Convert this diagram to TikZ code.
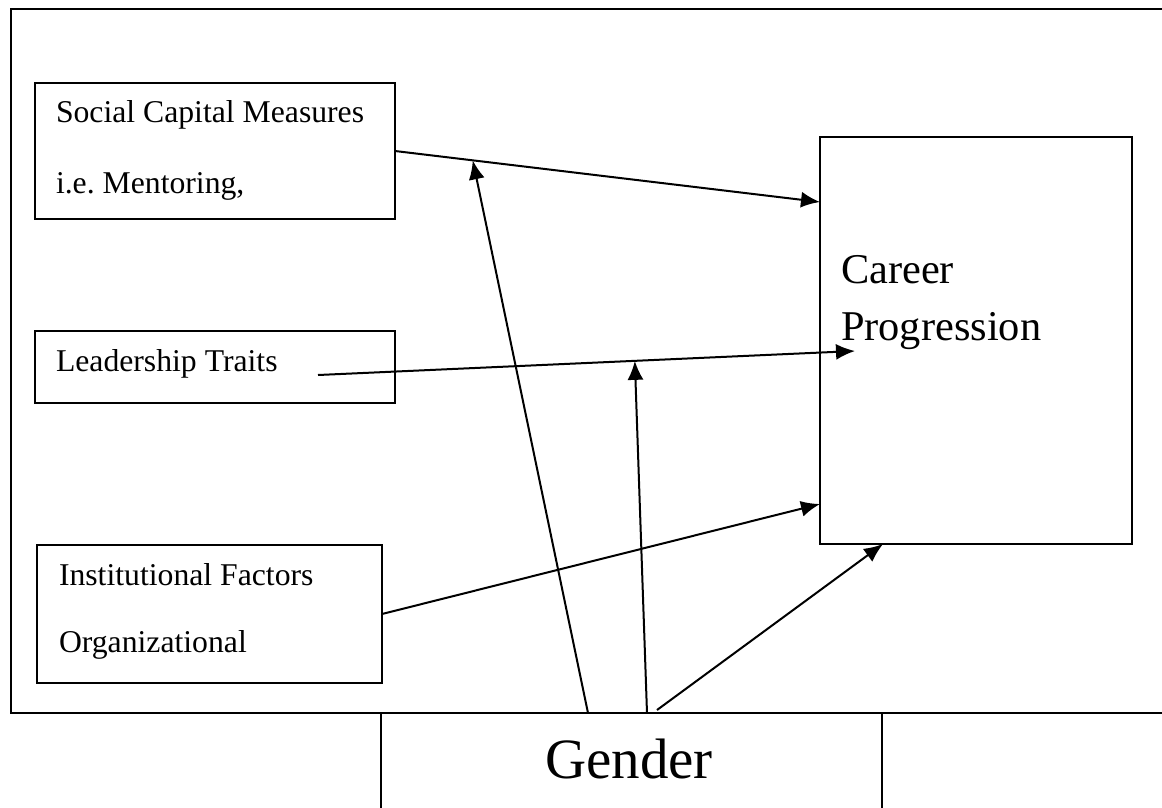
\documentclass[tikz,border=0pt]{standalone}
\usepackage{fontspec}
\setmainfont{Liberation Serif}
\usetikzlibrary{arrows.meta}

\newcommand{\smalltxt}{\fontsize{31.7}{38}\selectfont}
\newcommand{\midtxt}{\fontsize{42.4}{50}\selectfont}
\newcommand{\bigtxt}{\fontsize{57}{68}\selectfont}

\tikzset{
  box/.style={draw, line width=2.2pt, inner sep=0pt, outer sep=0pt, anchor=north west},
  lbl/.style={anchor=base west, inner sep=0pt},
}

\begin{document}
\begin{tikzpicture}[x=1pt, y=-1pt, >={Latex[length=19pt,width=16pt]}, line width=2pt]
  \useasboundingbox (0,0) rectangle (1162,807);
  \clip (0,0) rectangle (1162,807);
  % Outer frame, open on the right.
  \draw[line width=2.2pt] (1170,9) -- (11,9) -- (11,713) -- (1170,713);
  % Boxes on the left, the outcome on the right, the moderator below.
  \node[box, minimum width=360pt, minimum height=136pt] (social) at (35,83) {};
  \node[box, minimum width=360pt, minimum height=72pt]  (leader) at (35,331) {};
  \node[box, minimum width=345pt, minimum height=138pt] (inst)   at (37,545) {};
  \node[box, minimum width=312pt, minimum height=407pt] (career) at (820,137) {};
  \node[box, minimum width=501pt, minimum height=130pt] (gender) at (381,713) {};
  % Texts inside the boxes.
  \node[lbl, font=\smalltxt] (socialtxt) at (55,122) {Social Capital Measures};
  \node[lbl, font=\smalltxt] (mentortxt) at (55,193) {i.e.\ Mentoring,};
  \node[lbl, font=\smalltxt] (leadertxt) at (55,371) {Leadership Traits};
  \node[lbl, font=\smalltxt] (insttxt)   at (58,585) {Institutional Factors};
  \node[lbl, font=\smalltxt] (orgtxt)    at (58,652) {Organizational};
  \node[lbl, font=\midtxt]   (careertxt) at (840,283) {Career};
  \node[lbl, font=\midtxt]   (progtxt)   at (840,340) {Progression};
  \node[anchor=base, inner sep=0pt, font=\bigtxt] (gendertxt) at (629,778) {Gender};
  % End points of the arrows.
  \coordinate (c1) at (820,202);
  \coordinate (l0) at (318,375);
  \coordinate (l1) at (855,351);
  \coordinate (c2) at (820,504);
  \coordinate (c3) at (883,544);
  \coordinate (g1) at (588,713);
  \coordinate (g2) at (647,713);
  \coordinate (g3) at (657,710);
  % Direct effects on career progression.
  \draw[->] (social.east) -- (c1);
  \draw[->] (l0) -- (l1);
  \draw[->] (inst.east) -- (c2);
  % Points on the direct arrows hit by gender.
  \path (social.east) -- (c1) coordinate[pos=0.183] (m1);
  \path (l0) -- (l1) coordinate[pos=0.59] (m2);
  % Gender arrows.
  \foreach \s/\t in {g1/m1, g2/m2, g3/c3}
    \draw[->] (\s) -- (\t);
\end{tikzpicture}
\end{document}
